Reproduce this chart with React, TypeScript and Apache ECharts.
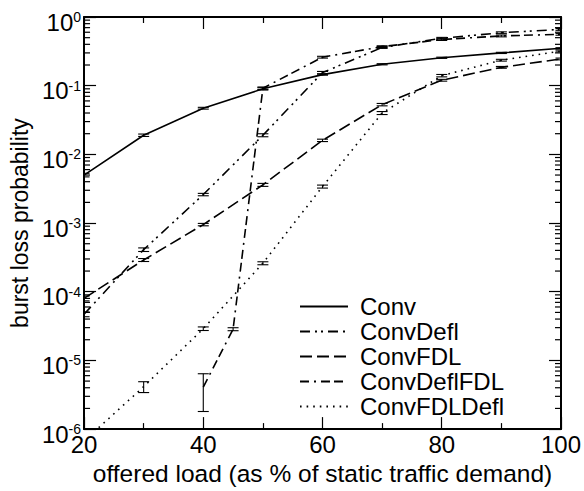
import React, { useEffect, useRef } from 'react';
import * as echarts from 'echarts';

// offered load (% of static traffic demand)
const loads = [20, 30, 40, 50, 60, 70, 80, 90, 100];
const convDeflFdlLoads = [40, 45, 50, 60, 70, 80, 90, 100];

// burst loss probability per series
const convLoss = [5.0e-3, 0.019, 0.047, 0.09, 0.145, 0.205, 0.255, 0.3, 0.35];
const convDeflLoss = [4.7e-5, 4.1e-4, 2.6e-3, 0.019, 0.155, 0.36, 0.49, 0.59, 0.66];
const convFdlLoss = [8.0e-5, 2.9e-4, 9.5e-4, 3.6e-3, 0.016, 0.053, 0.12, 0.185, 0.245];
const convDeflFdlLoss = [4.1e-6, 2.85e-5, 0.092, 0.26, 0.37, 0.47, 0.53, 0.56];
const convFdlDeflLoss = [6.7e-7, 4.15e-6, 2.9e-5, 2.6e-4, 3.4e-3, 0.04, 0.14, 0.235, 0.32];

// relative half-width of the error bars
const convErr = [0.06, 0.04, 0.03, 0.04, 0.02, 0.02, 0.02, 0.02, 0.02];
const convDeflErr = [0.08, 0.06, 0.04, 0.05, 0.04, 0.03, 0.03, 0.03, 0.03];
const convFdlErr = [0.08, 0.05, 0.04, 0.05, 0.04, 0.04, 0.03, 0.03, 0.03];
const convDeflFdlErr = [0.56, 0.05, 0.04, 0.03, 0.03, 0.03, 0.03, 0.03];
const convFdlDeflErr = [0, 0.18, 0.06, 0.05, 0.05, 0.05, 0.04, 0.03, 0.03];

// axis ticks
const xTickStep = 20;
const xMin = 20;
const xMax = 100;
const yMin = 1e-6;
const yMax = 1;
const minorDecades = [-6, -5, -4, -3, -2, -1];
const minorMantissas = [2, 3, 4, 5, 6, 7, 8, 9];

const FONT = '"Liberation Sans", Arial, Helvetica, sans-serif';

const seriesDefs = [
  { name: 'Conv', x: loads, y: convLoss, err: convErr, dash: 'solid' as any },
  { name: 'ConvDefl', x: loads, y: convDeflLoss, err: convDeflErr, dash: [10, 5, 2, 4, 2, 5] },
  { name: 'ConvFDL', x: loads, y: convFdlLoss, err: convFdlErr, dash: [12, 5] },
  { name: 'ConvDeflFDL', x: convDeflFdlLoads, y: convDeflFdlLoss, err: convDeflFdlErr, dash: [9, 5, 2, 5, 9, 4] },
  { name: 'ConvFDLDefl', x: loads, y: convFdlDeflLoss, err: convFdlDeflErr, dash: [1.6, 5] },
];

export default function App() {
  const ref = useRef<HTMLDivElement>(null);
  useEffect(() => {
    if (!ref.current) return;
    const chart = echarts.init(ref.current, null, { renderer: 'svg' });

    const errData: number[][] = [];
    seriesDefs.forEach((s) => {
      s.x.forEach((x, i) => {
        const e = s.err[i];
        if (e > 0) errData.push([x, s.y[i] * (1 - e), s.y[i] * (1 + e)]);
      });
    });
    const minorData: number[][] = [];
    minorDecades.forEach((d) => minorMantissas.forEach((m) => minorData.push([xMin, m * Math.pow(10, d)])));

    const black = '#000';
    const option: any = {
      animation: false,
      grid: { left: 81, right: 20, top: 17, bottom: 52 },
      legend: {
        data: seriesDefs.map((s) => s.name),
        orient: 'vertical',
        left: 299,
        top: 294,
        padding: 0,
        itemWidth: 48,
        itemHeight: 14,
        itemGap: 0,
        itemStyle: { opacity: 0 },
        textStyle: { fontSize: 24, color: black, fontFamily: FONT, padding: [0, 0, 0, 7], lineHeight: 25 },
      },
      xAxis: [
        {
          type: 'value',
          min: xMin,
          max: xMax,
          interval: xTickStep,
          position: 'bottom',
          name: 'offered load (as % of static traffic demand)',
          nameLocation: 'middle',
          nameGap: 23,
          nameTextStyle: { fontSize: 24.5, color: black, fontFamily: FONT },
          axisLine: { lineStyle: { color: black, width: 2 } },
          axisTick: { inside: true, length: 12, lineStyle: { color: black, width: 1.2 } },
          minorTick: { show: true, splitNumber: 2, length: 6, lineStyle: { color: black, width: 1.2 } },
          axisLabel: { fontSize: 24, color: black, fontFamily: FONT, margin: 3 },
          splitLine: { show: false },
        },
        {
          type: 'value',
          min: xMin,
          max: xMax,
          interval: xTickStep,
          position: 'top',
          axisLine: { lineStyle: { color: black, width: 2 } },
          axisTick: { inside: true, length: 12, lineStyle: { color: black, width: 1.2 } },
          minorTick: { show: true, splitNumber: 2, length: 6, lineStyle: { color: black, width: 1.2 } },
          axisLabel: { show: false },
          splitLine: { show: false },
        },
      ],
      yAxis: [
        {
          type: 'log',
          logBase: 10,
          min: yMin,
          max: yMax,
          splitNumber: 6,
          position: 'left',
          name: 'burst loss probability',
          nameLocation: 'middle',
          nameGap: 45,
          nameRotate: 90,
          nameTextStyle: { fontSize: 23, color: black, fontFamily: FONT },
          axisLine: { lineStyle: { color: black, width: 2 } },
          axisTick: { inside: true, length: 12, lineStyle: { color: black, width: 1.2 } },
          axisLabel: {
            margin: 3,
            padding: [10, 0, 0, 0],
            formatter: (v: number) => `{a|10}{b|${Math.round(Math.log10(v))}}`,
            rich: {
              a: { fontSize: 24, color: black, fontFamily: FONT },
              b: { fontSize: 14, color: black, fontFamily: FONT, verticalAlign: 'top' },
            },
          },
          splitLine: { show: false },
        },
        {
          type: 'log',
          logBase: 10,
          min: yMin,
          max: yMax,
          splitNumber: 6,
          position: 'right',
          axisLine: { lineStyle: { color: black, width: 2 } },
          axisTick: { inside: true, length: 12, lineStyle: { color: black, width: 1.2 } },
          axisLabel: { show: false },
          splitLine: { show: false },
        },
      ],
      series: [
        ...seriesDefs.map((s) => ({
          name: s.name,
          type: 'line',
          data: s.x.map((x, i) => [x, s.y[i]]),
          symbol: 'none',
          clip: true,
          lineStyle: { color: black, width: 1.6, type: s.dash },
          itemStyle: { color: black },
        })),
        {
          type: 'custom',
          name: 'errorbars',
          clip: true,
          data: errData,
          encode: { x: 0, y: [1, 2] },
          renderItem: (params: any, api: any) => {
            const x = api.value(0);
            const a = api.coord([x, api.value(1)]);
            const b = api.coord([x, api.value(2)]);
            const w = 5.5;
            const st = { stroke: black, lineWidth: 1.1 };
            return {
              type: 'group',
              children: [
                { type: 'line', shape: { x1: a[0], y1: a[1], x2: b[0], y2: b[1] }, style: st },
                { type: 'line', shape: { x1: a[0] - w, y1: a[1], x2: a[0] + w, y2: a[1] }, style: st },
                { type: 'line', shape: { x1: b[0] - w, y1: b[1], x2: b[0] + w, y2: b[1] }, style: st },
              ],
            };
          },
        },
        {
          type: 'custom',
          name: 'minorticks',
          data: minorData,
          encode: { x: 0, y: 1 },
          renderItem: (params: any, api: any) => {
            const v = api.value(1);
            const l = api.coord([xMin, v]);
            const r = api.coord([xMax, v]);
            const st = { stroke: black, lineWidth: 1.2 };
            return {
              type: 'group',
              children: [
                { type: 'line', shape: { x1: l[0], y1: l[1], x2: l[0] + 6, y2: l[1] }, style: st },
                { type: 'line', shape: { x1: r[0] - 6, y1: r[1], x2: r[0], y2: r[1] }, style: st },
              ],
            };
          },
        },
      ],
    };
    chart.setOption(option);
    return () => chart.dispose();
  }, []);
  return (
    <div
      ref={ref}
      style={{ position: 'fixed', left: 0, top: 0, width: 584, height: 491, background: '#fff' }}
    />
  );
}
